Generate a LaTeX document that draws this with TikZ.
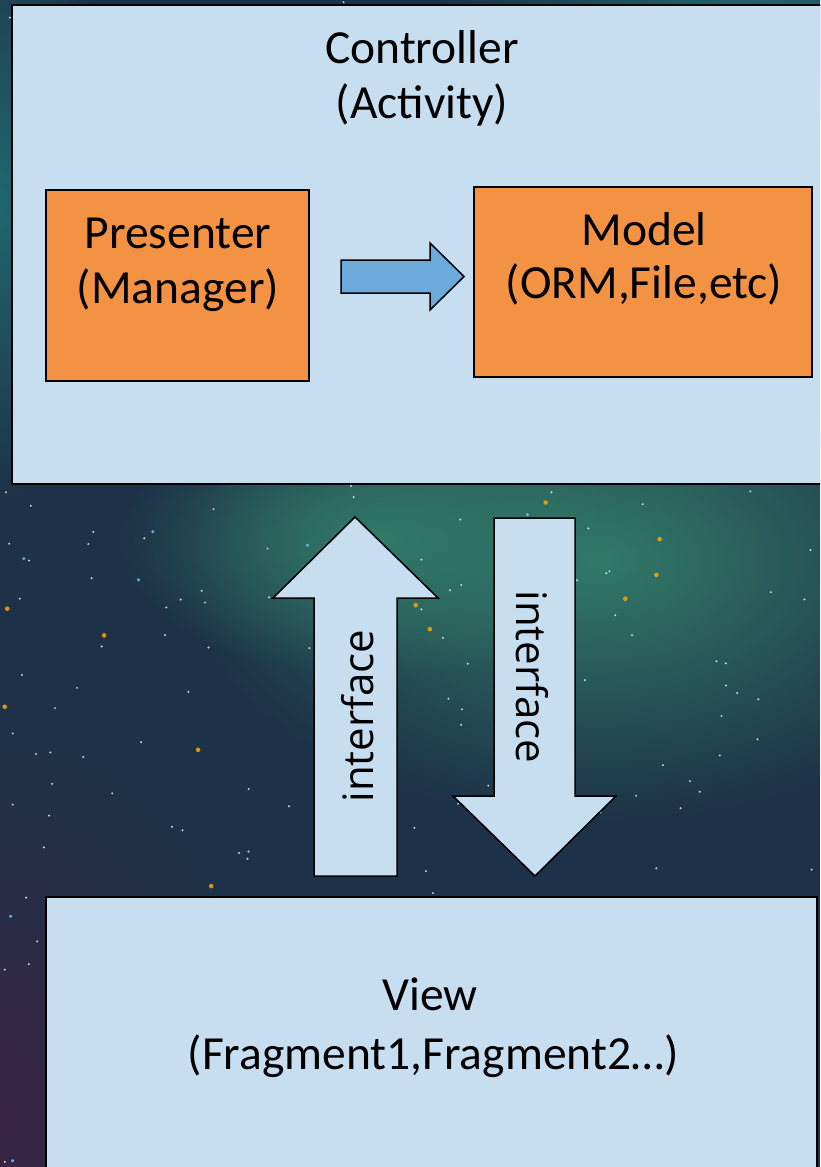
\documentclass[tikz,border=0pt]{standalone}
\usepackage{fontspec}
\setmainfont{Carlito}
\newfontfamily\ifacefont{Open Sans}
\usetikzlibrary{fadings}

\definecolor{boxblue}{RGB}{199,222,240}
\definecolor{boxorange}{RGB}{242,146,66}
\definecolor{flowblue}{RGB}{108,170,220}
\definecolor{spacebase}{RGB}{29,50,72}
\definecolor{spacegreen}{RGB}{50,122,104}
\definecolor{spaceteal}{RGB}{32,104,112}
\definecolor{spacepurple}{RGB}{58,36,70}
\tikzfading[name=glow, inner color=transparent!0, outer color=transparent!100]

\begin{document}
\begin{tikzpicture}[x=1pt, y=-1pt, line width=1.5pt,
  bluebox/.style={draw=black, fill=boxblue, inner sep=0pt},
  orangebox/.style={draw=black, fill=boxorange, inner sep=0pt},
  lbl/.style={font=\fontsize{47.5}{57}\selectfont, anchor=base, inner sep=0pt},
  iface/.style={font=\ifacefont\fontsize{42}{50}\selectfont, anchor=base, inner sep=0pt},
  blockarrow/.style={draw=black, line join=miter}]
\useasboundingbox (0,0) rectangle (820,1167);
\clip (0,0) rectangle (820,1167);

% space background
\fill[spacebase] (0,0) rectangle (820,1167);
\fill[spacegreen, path fading=glow] (600,560) ellipse (420 and 260);
\fill[spacegreen, path fading=glow] (380,540) ellipse (260 and 140);
\fill[spaceteal, path fading=glow] (760,20) ellipse (320 and 160);
\fill[spaceteal, path fading=glow] (0,200) ellipse (120 and 300);
\fill[spacepurple, path fading=glow] (0,1120) ellipse (260 and 380);
\pgfmathsetseed{11}
\foreach \s in {1,...,260}
  \fill[white, opacity=0.8] ({820*rnd},{1167*rnd}) circle (1.1); % small stars
\foreach \s in {1,...,40}
  \fill[orange!70!yellow, opacity=0.85] ({820*rnd},{1167*rnd}) circle (2.3); % warm stars
\foreach \s in {1,...,25}
  \fill[cyan!60!white, opacity=0.85] ({820*rnd},{1167*rnd}) circle (1.7); % cool stars

% controller
\node[bluebox, minimum width=818, minimum height=479] (controller) at (421,244.5) {};
\node[lbl] (ctrl-a) at (422,63) {Controller};
\node[lbl] (ctrl-b) at (422,118) {(Activity)};

% presenter and model
\node[orangebox, minimum width=263, minimum height=191] (presenter) at (177.5,285.5) {};
\node[lbl] (pres-a) at (178,248) {Presenter};
\node[lbl] (pres-b) at (178,303) {(Manager)};
\node[orangebox, minimum width=338, minimum height=190] (model) at (643,282) {};
\node[lbl] (model-a) at (644,245) {Model};
\node[lbl] (model-b) at (644,298) {(ORM,File,etc)};
\draw[blockarrow, fill=flowblue] (341,260) -- (430,260) -- (430,243) -- (464,276.5)
  -- (430,310) -- (430,293) -- (341,293) -- cycle; % presenter to model

% interface arrows
\draw[blockarrow, fill=boxblue] (314,876) -- (314,598) -- (273,598) -- (355,517)
  -- (438,598) -- (397,598) -- (397,876) -- cycle; % up
\node[iface, rotate=90] (up-txt) at (373,716) {interface};
\draw[blockarrow, fill=boxblue] (494,518) -- (575,518) -- (575,796) -- (616,796)
  -- (535,876) -- (453,796) -- (494,796) -- cycle; % down
\node[iface, rotate=-90] (down-txt) at (516,677) {interface};

% view
\node[bluebox, minimum width=771, minimum height=290] (view) at (431.5,1042) {};
\node[lbl] (view-a) at (430,1010) {View};
\node[lbl] (view-b) at (433,1069) {(Fragment1,Fragment2\ldots)};
\end{tikzpicture}
\end{document}
